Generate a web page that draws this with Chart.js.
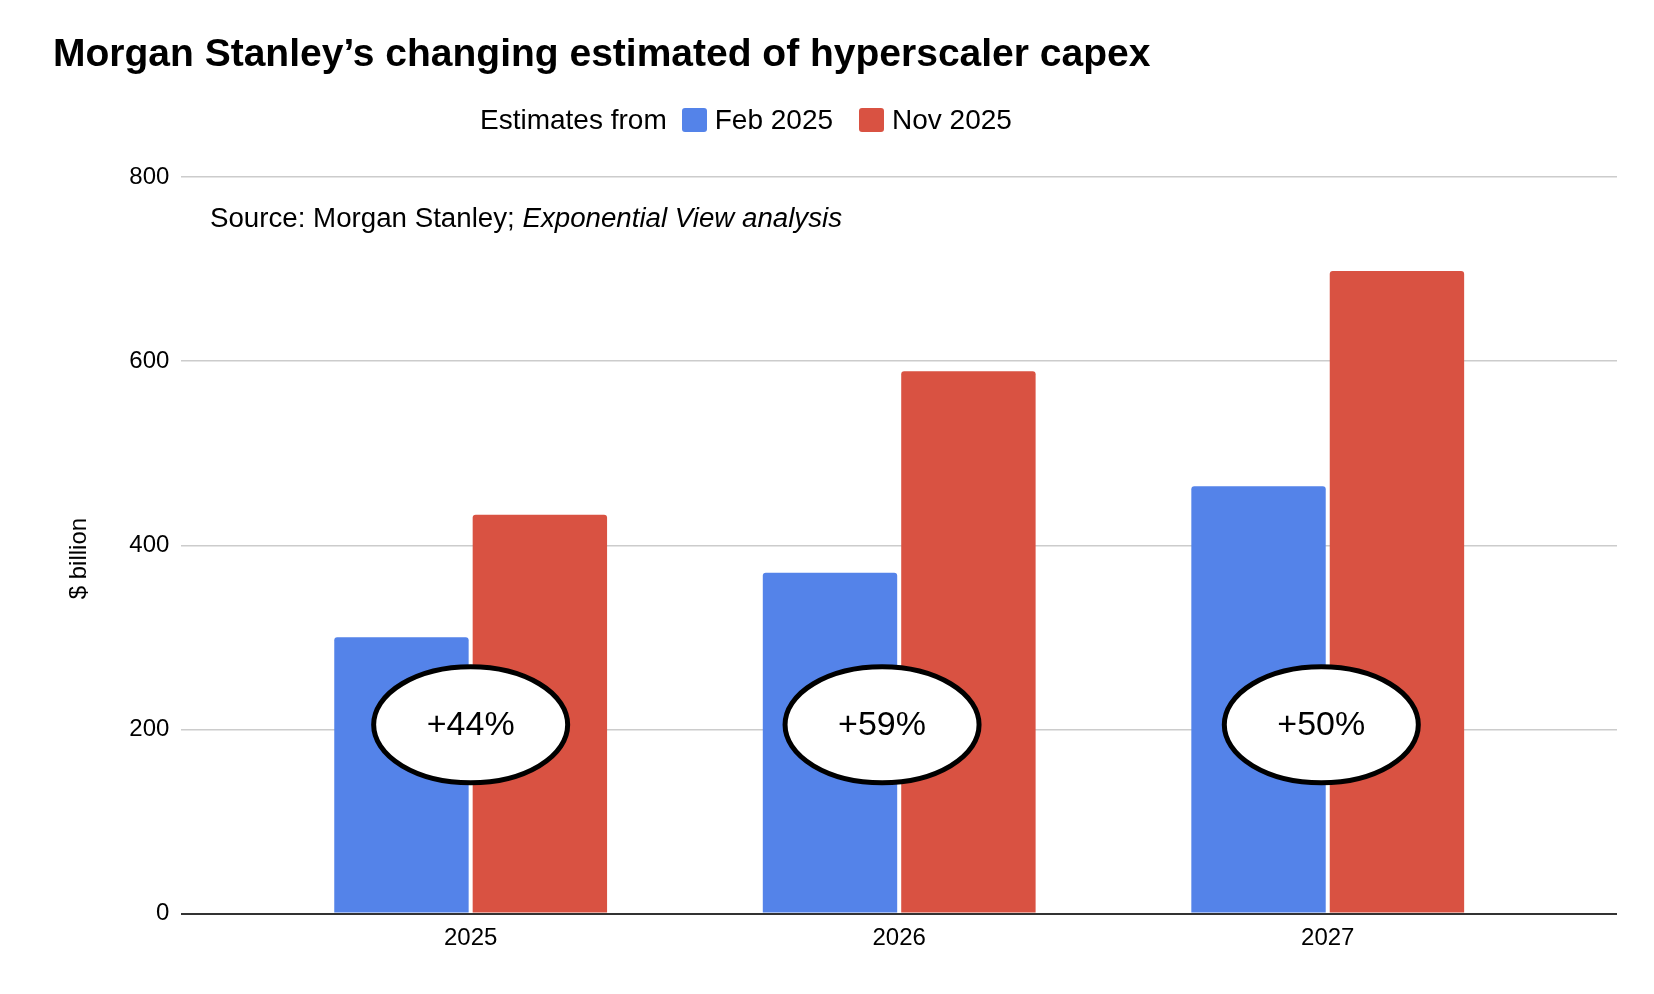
<!DOCTYPE html>
<html>
<head>
<meta charset="utf-8">
<title>Hyperscaler capex estimates</title>
<script src="https://cdn.jsdelivr.net/npm/chart.js@4.4.1/dist/chart.umd.min.js"></script>
<style>
  html, body { margin: 0; padding: 0; background: #fff; }
  body {
    width: 1654px; height: 994px; position: relative; overflow: hidden;
    font-family: "Liberation Sans", Arial, Helvetica, sans-serif; color: #000;
  }
  #chart { position: absolute; left: 0; top: 0; }
  .txt { position: absolute; white-space: nowrap; }
  #title { left: 53px; top: 33px; font-size: 39px; line-height: 39px; font-weight: bold; }
  #legend {
    position: absolute; left: 480px; top: 106px; height: 28px;
    display: flex; align-items: center; font-size: 28px; line-height: 28px; white-space: nowrap;
  }
  .box { width: 25px; height: 24px; border-radius: 3px; margin-right: 8px; }
  #source { left: 210px; top: 204px; font-size: 27.7px; line-height: 28px; }
</style>
</head>
<body>

<canvas id="chart" width="1654" height="994"></canvas>

<div id="title" class="txt">Morgan Stanley’s changing estimated of hyperscaler capex</div>
<div id="legend"></div>
<div id="source" class="txt">Source: Morgan Stanley; <i>Exponential View analysis</i></div>

<script>
/* ===================================
   Data
   =================================== */
const categories = ['2025', '2026', '2027'];
const seriesNames = ['Feb 2025', 'Nov 2025'];
const feb2025 = [300, 370, 464];
const nov2025 = [433, 589, 698];
const yTicks = [0, 200, 400, 600, 800];

// "+x%" callouts, placed in data units (category index, $ billion)
const changeLabels = ['+44%', '+59%', '+50%'];
const changeX = [0, 0.96, 1.985];
const changeY = [205, 205, 205];

const colors = ['#5483E9', '#D95242'];


// HTML legend: "Estimates from  [] Feb 2025  [] Nov 2025"
function buildLegend() {
  const legend = document.getElementById('legend');
  legend.innerHTML = '<span>Estimates from</span>';
  seriesNames.forEach((name, i) => {
    const box = document.createElement('span');
    box.className = 'box';
    box.style.background = colors[i];
    box.style.marginLeft = i === 0 ? '15px' : '26px';
    legend.appendChild(box);
    const label = document.createElement('span');
    label.textContent = name;
    legend.appendChild(label);
  });
}


// ellipse callouts drawn on top of the bars
const calloutPlugin = {
  id: 'callouts',
  afterDatasetsDraw(chart) {
    const { ctx, scales: { x, y } } = chart;
    ctx.save();
    changeLabels.forEach((label, i) => {
      const cx = x.getPixelForValue(changeX[i]);
      const cy = y.getPixelForValue(changeY[i]);
      ctx.beginPath();
      ctx.ellipse(cx, cy, 97, 58, 0, 0, Math.PI * 2);
      ctx.fillStyle = '#fff';
      ctx.fill();
      ctx.lineWidth = 5;
      ctx.strokeStyle = '#000';
      ctx.stroke();
      ctx.fillStyle = '#000';
      ctx.font = '34px "Liberation Sans", Arial, sans-serif';
      ctx.textAlign = 'center';
      ctx.textBaseline = 'middle';
      ctx.fillText(label, cx, cy + 1);
    });
    ctx.restore();
  }
};


document.addEventListener('DOMContentLoaded', function () {

  buildLegend();

  const ctx = document.getElementById('chart').getContext('2d');

  new Chart(ctx, {

    type: 'bar',

    data: {
      datasets: [feb2025, nov2025].map((values, i) => ({
        label: seriesNames[i],
        data: values.map((v, j) => ({ x: j, y: v })),
        backgroundColor: colors[i],
        borderRadius: 3,
        borderSkipped: 'start',
        categoryPercentage: 0.646,
        barPercentage: 0.971
      }))
    },

    options: {
      responsive: false,
      animation: false,
      devicePixelRatio: 1,
      layout: {
        padding: { top: 177, right: 37, bottom: 0, left: 0 }
      },
      plugins: {
        legend: { display: false },
        tooltip: { enabled: false },
        title: { display: false }
      },
      scales: {
        x: {
          type: 'linear',
          offset: false,
          // leave some room either side of the outer groups, like the original
          min: -0.675,
          max: 2.675,
          grid: { display: false, drawTicks: false },
          border: { display: false },
          afterBuildTicks: scale => {
            scale.ticks = categories.map((c, i) => ({ value: i }));
          },
          afterFit: scale => { scale.height = 80.5; },
          ticks: {
            autoSkip: false,
            maxRotation: 0,
            padding: 10,
            color: '#000',
            font: { family: '"Liberation Sans", Arial, sans-serif', size: 24 },
            callback: value => categories[value] ?? ''
          }
        },
        y: {
          min: 0,
          max: 800,
          afterBuildTicks: scale => {
            scale.ticks = yTicks.map(v => ({ value: v }));
          },
          afterFit: scale => { scale.width = 181.4; },
          grid: {
            drawTicks: false,
            color: c => c.tick && c.tick.value === 0 ? '#333' : '#cccccc',
            lineWidth: c => c.tick && c.tick.value === 0 ? 2 : 1.5
          },
          border: { display: false },
          ticks: {
            padding: 12,
            color: '#000',
            font: { family: '"Liberation Sans", Arial, sans-serif', size: 24 }
          },
          title: {
            display: true,
            // trailing spaces nudge the rotated label a little lower, as in the original
            text: '$ billion\u00a0\u00a0\u00a0\u00a0',
            color: '#000',
            padding: { top: 64.6, bottom: 0 },
            font: { family: '"Liberation Sans", Arial, sans-serif', size: 24 }
          }
        }
      }
    },

    plugins: [calloutPlugin]

  });

});
</script>
</body>
</html>
